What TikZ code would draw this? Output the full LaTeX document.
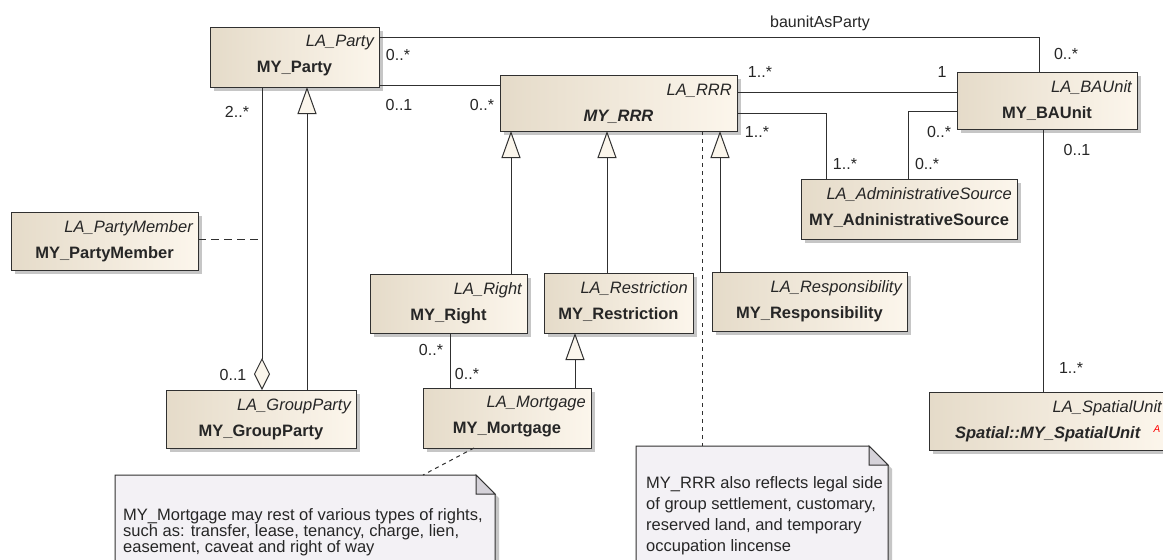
\documentclass[tikz,border=0pt]{standalone}
\usepackage{fontspec}
\setmainfont{Liberation Sans}
\usetikzlibrary{arrows.meta,shadows,calc}
\definecolor{boxL}{HTML}{E5DBC9}
\definecolor{boxR}{HTML}{FCF6EC}
\definecolor{edgec}{HTML}{303030}
\definecolor{shadec}{HTML}{C6C6C6}
\definecolor{notefill}{HTML}{F3F1F5}
\definecolor{foldfill}{HTML}{D5D2D9}
\definecolor{tipfill}{HTML}{FBF6EC}
\definecolor{txt}{HTML}{262626}
\tikzset{
  cls/.style={draw=edgec, line width=1pt, left color=boxL, right color=boxR,
    drop shadow={shadow xshift=4pt, shadow yshift=-4pt, fill=shadec, opacity=1},
    inner sep=0pt, outer sep=0pt, anchor=north west},
  stereo/.style={font=\fontsize{16.5}{19}\selectfont\itshape, text=txt, inner sep=0pt, anchor=east},
  cname/.style={font=\fontsize{16.5}{19}\selectfont\bfseries, text=txt, inner sep=0pt},
  mult/.style={font=\fontsize{16}{19}\selectfont, text=txt, inner sep=0pt},
  conn/.style={draw=edgec, line width=1pt},
  gen/.style={conn, -{Triangle[length=27pt, width=19pt, fill=tipfill, line width=1pt]}},
  agg/.style={conn, {Diamond[length=32pt, width=16pt, fill=tipfill, line width=1pt]}-},
  notelink/.style={conn, dash pattern=on 4pt off 4pt},
  assoclink/.style={conn, dash pattern=on 8pt off 5pt},
  notebox/.style={inner sep=0pt, outer sep=0pt, anchor=north west},
  notetext/.style={font=\fontsize{16.5}{#1}\selectfont, align=left, anchor=north west, inner sep=0pt, text=txt},
  noteline/.style={draw=edgec, line width=1pt},
}
% name, x, y, width, height, parent, own name
\newcommand\umlclass[7]{%
  \node[cls, minimum width=#4pt, minimum height=#5pt] (#1) at (#2,#3) {};
  \node[stereo] (#1-s) at ($(#1.north east)+(-5,16)$) {#6};
  \node[cname] (#1-n) at ($(#1.north)+(0,42)$) {#7};
}
\newcommand\umlnote[2]{% node name, fold size
  \fill[shadec] ([shift={(4pt,-4pt)}]#1.north west) -- ([shift={(-#2pt+4pt,-4pt)}]#1.north east)
     -- ([shift={(4pt,-#2pt-4pt)}]#1.north east) -- ([shift={(4pt,-4pt)}]#1.south east)
     -- ([shift={(4pt,-4pt)}]#1.south west) -- cycle;
  \draw[noteline, fill=notefill] (#1.north west) -- ([xshift=-#2pt]#1.north east)
     -- ([yshift=-#2pt]#1.north east) -- (#1.south east) -- (#1.south west) -- cycle;
  \draw[noteline, fill=foldfill] ([xshift=-#2pt]#1.north east) -- ([shift={(-#2pt,-#2pt)}]#1.north east)
     -- ([yshift=-#2pt]#1.north east) -- cycle;
}
\begin{document}
\begin{tikzpicture}[x=1pt, y=-1pt]
\useasboundingbox (0,0) rectangle (1163,560);
\fill[white] (0,0) rectangle (1163,560);
\clip (0,0) rectangle (1163,560);

% classes
\umlclass{party}{210}{27}{169}{60}{LA\_Party}{MY\_Party}
\umlclass{rrr}{500}{75}{237}{56}{LA\_RRR}{\textit{MY\_RRR}}
\umlclass{baunit}{957}{72}{180}{57}{LA\_BAUnit}{MY\_BAUnit}
\umlclass{admin}{801}{179}{216}{60}{LA\_AdministrativeSource}{MY\_AdninistrativeSource}
\umlclass{member}{11}{212}{187}{58}{LA\_PartyMember}{MY\_PartyMember}
\umlclass{grp}{166}{390}{190}{58}{LA\_GroupParty}{MY\_GroupParty}
\umlclass{right}{370}{274}{157}{59}{LA\_Right}{MY\_Right}
\umlclass{restr}{544}{273}{149}{60}{LA\_Restriction}{MY\_Restriction}
\umlclass{resp}{712}{272}{195}{59}{LA\_Responsibility}{MY\_Responsibility}
\umlclass{mort}{423}{388}{168}{60}{LA\_Mortgage}{MY\_Mortgage}
\umlclass{spatial}{929}{392}{238}{58}{LA\_SpatialUnit}{\textit{Spatial::MY\_SpatialUnit}}
\node[font=\fontsize{10}{12}\selectfont\itshape, text=red, inner sep=0pt] (spA) at (1157,429) {A};

% notes
\node[notebox, minimum width=380pt, minimum height=110pt] (n1) at (115,475) {};
\umlnote{n1}{19}
\node[notetext=16pt] (n1t) at (123,508) {MY\_Mortgage may rest of various types of rights,\\such as: transfer, lease, tenancy, charge, lien,\\easement, caveat and right of way};
\node[notebox, minimum width=252pt, minimum height=140pt] (n2) at (636,446) {};
\umlnote{n2}{19}
\node[notetext=21pt] (n2t) at (646,476) {MY\_RRR also reflects legal side\\of group settlement, customary,\\reserved land, and temporary\\occupation lincense};

% baunitAsParty
\draw[conn] ([yshift=-10pt]party.north east) -| ([xshift=-8pt]baunit.north);
\node[mult] (l-bap) at (820,23) {baunitAsParty};
\node[mult] (l-bap1) at (398,55) {0..*};
\node[mult] (l-bap2) at (1066,54) {0..*};

% party - rrr
\coordinate (p1) at ([yshift=2pt]party.south east);
\draw[conn] (p1) -- (p1 -| rrr.west);
\node[mult] (l-pr1) at (399,105) {0..1};
\node[mult] (l-pr2) at (482,105) {0..*};

% rrr - baunit
\coordinate (r1) at ([yshift=-17pt]rrr.north east);
\draw[conn] (r1) -- (r1 -| baunit.west);
\node[mult] (l-rb1) at (760,72) {1..*};
\node[mult] (l-rb2) at (942,72) {1};

% rrr - admin source
\coordinate (r2) at ([yshift=-38pt]rrr.north east);
\draw[conn] (r2) -| ([xshift=25pt]admin.north west);
\node[mult] (l-ra1) at (757,132) {1..*};
\node[mult] (l-ra2) at (845,164) {1..*};

% baunit - admin source
\coordinate (b1) at ([yshift=-39pt]baunit.north west);
\draw[conn] (b1) -| ([xshift=107pt]admin.north west);
\node[mult] (l-ba1) at (939,132) {0..*};
\node[mult] (l-ba2) at (927,164) {0..*};

% baunit - spatial unit
\coordinate (b2) at ([xshift=86pt]baunit.south west);
\draw[conn] (b2) -- (b2 |- spatial.north);
\node[mult] (l-bs1) at (1077,150) {0..1};
\node[mult] (l-bs2) at (1071,368) {1..*};

% party - group party (aggregation)
\coordinate (p2) at ([xshift=52pt]party.south west);
\draw[agg] (p2 |- grp.north) -- (p2);
\node[mult] (l-pg1) at (237,112) {2..*};
\node[mult] (l-pg2) at (233,375) {0..1};
\coordinate (pm) at ([yshift=-27pt]member.north east);
\draw[assoclink] (pm) -- (pm -| p2);

% group party generalization
\coordinate (g1) at ([xshift=141pt]grp.north west);
\draw[gen] (g1) -- (g1 |- party.south);

% rrr specialisations
\coordinate (rt) at ([xshift=141pt]right.north west);
\draw[gen] (rt) -- (rt |- rrr.south);
\coordinate (rs) at ([xshift=63pt]restr.north west);
\draw[gen] (rs) -- (rs |- rrr.south);
\coordinate (rp) at ([xshift=8pt]resp.north west);
\draw[gen] (rp) -- (rp |- rrr.south);

% mortgage
\coordinate (m1) at ([xshift=152pt]mort.north west);
\draw[gen] (m1) -- (m1 |- restr.south);
\coordinate (m2) at ([xshift=27pt]mort.north west);
\draw[conn] (m2) -- (m2 |- right.south);
\node[mult] (l-rm1) at (431,350) {0..*};
\node[mult] (l-rm2) at (467,374) {0..*};

% note links
\coordinate (r3) at ([xshift=202pt]rrr.south west);
\draw[notelink] (r3) -- (r3 |- n2.north);
\draw[notelink] ([xshift=51pt]mort.south west) -- ([xshift=308pt]n1.north west);
\end{tikzpicture}
\end{document}
